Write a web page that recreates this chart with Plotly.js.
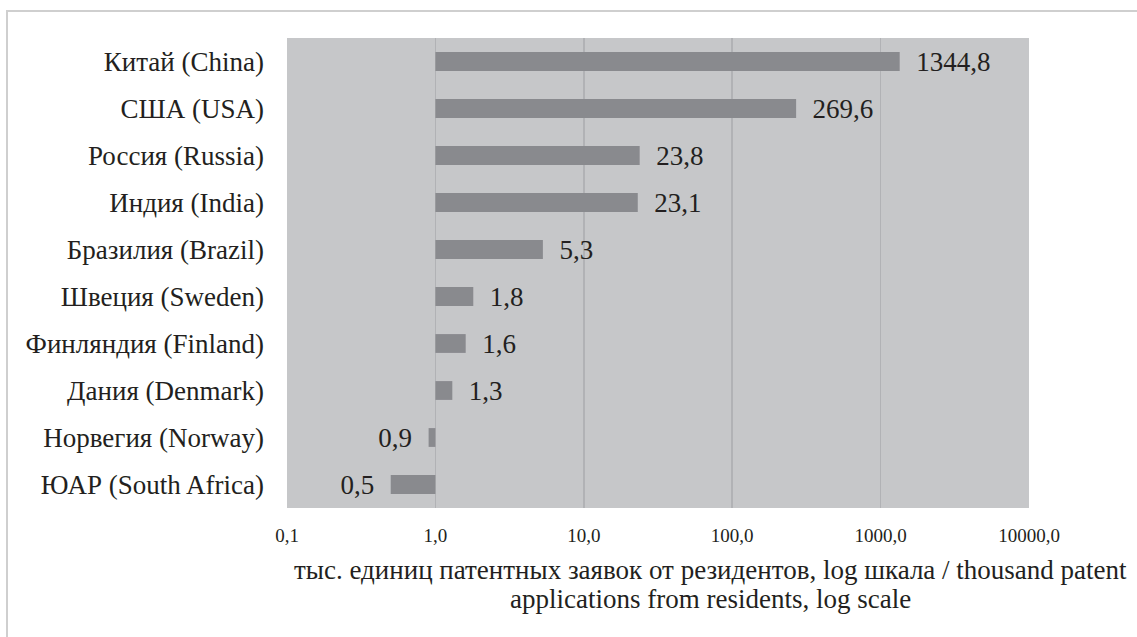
<!DOCTYPE html>
<html>
<head>
<meta charset="utf-8">
<script src="https://cdn.plot.ly/plotly-3.0.1.min.js"></script>
<style>
  html, body { margin: 0; padding: 0; background: #ffffff; }
  #wrap { position: relative; width: 1137px; height: 637px; overflow: hidden; }
  #frame { position: absolute; left: 6px; top: 10px; width: 1200px; height: 700px;
           border-left: 2px solid #cfcfcf; border-top: 2px solid #cfcfcf; pointer-events: none; }
  #chart { position: absolute; left: 0; top: 0; width: 1137px; height: 637px; }
</style>
</head>
<body>
<div id="wrap">
  <div id="frame"></div>
  <div id="chart"></div>
</div>
<script>
const categories = [
  "Китай (China)",
  "США (USA)",
  "Россия (Russia)",
  "Индия (India)",
  "Бразилия (Brazil)",
  "Швеция (Sweden)",
  "Финляндия (Finland)",
  "Дания (Denmark)",
  "Норвегия (Norway)",
  "ЮАР (South Africa)"
];
const values = [1344.8, 269.6, 23.8, 23.1, 5.3, 1.8, 1.6, 1.3, 0.9, 0.5];
const tickValues = [0.1, 1, 10, 100, 1000, 10000];
const tickLabels = ["0,1", "1,0", "10,0", "100,0", "1000,0", "10000,0"];
const axisTitleLines = [
  "тыс. единиц патентных заявок от резидентов, log шкала / thousand patent",
  "applications from residents, log scale"
];

const baseValue = 1;
const fmt = v => v.toFixed(1).replace(".", ",");
const labels = values.map(v => v >= baseValue ? "\u2002" + fmt(v) : fmt(v) + "\u2002");

const serif = "Liberation Serif";
const textColor = "#231f20";

const trace = {
  type: "bar",
  orientation: "h",
  y: categories,
  x: values.map(v => v - baseValue),
  base: values.map(() => baseValue),
  width: 0.4,
  marker: { color: "#898a8e", line: { width: 0 } },
  text: labels,
  textposition: "outside",
  constraintext: "none",
  cliponaxis: false,
  textfont: { family: serif, size: 27, color: textColor },
  hoverinfo: "skip"
};

const titleYs = [-0.1319, -0.1936];

const layout = {
  width: 1137,
  height: 637,
  margin: { l: 287, r: 108, t: 38, b: 129 },
  paper_bgcolor: "rgba(0,0,0,0)",
  plot_bgcolor: "#c6c7c9",
  showlegend: false,
  font: { family: serif, color: textColor },
  xaxis: {
    type: "log",
    range: [-1, 4],
    tickvals: tickValues,
    ticktext: tickLabels,
    showgrid: true,
    gridcolor: "#b1b2b5",
    gridwidth: 1.5,
    zeroline: false,
    showline: false,
    ticks: "",
    ticklabelstandoff: 14,
    tickfont: { family: serif, size: 19, color: textColor }
  },
  yaxis: {
    type: "category",
    categoryorder: "array",
    categoryarray: categories,
    autorange: "reversed",
    showgrid: false,
    zeroline: false,
    showline: false,
    ticks: "",
    ticklabelstandoff: 22,
    tickfont: { family: serif, size: 27, color: textColor }
  },
  annotations: axisTitleLines.map((line, i) => ({
    xref: "paper", yref: "paper",
    x: 0.5714, y: titleYs[i],
    xanchor: "center", yanchor: "middle",
    text: line,
    showarrow: false,
    font: { family: serif, size: 27, color: textColor }
  }))
};

Plotly.newPlot("chart", [trace], layout, { displayModeBar: false, staticPlot: true });
</script>
</body>
</html>
